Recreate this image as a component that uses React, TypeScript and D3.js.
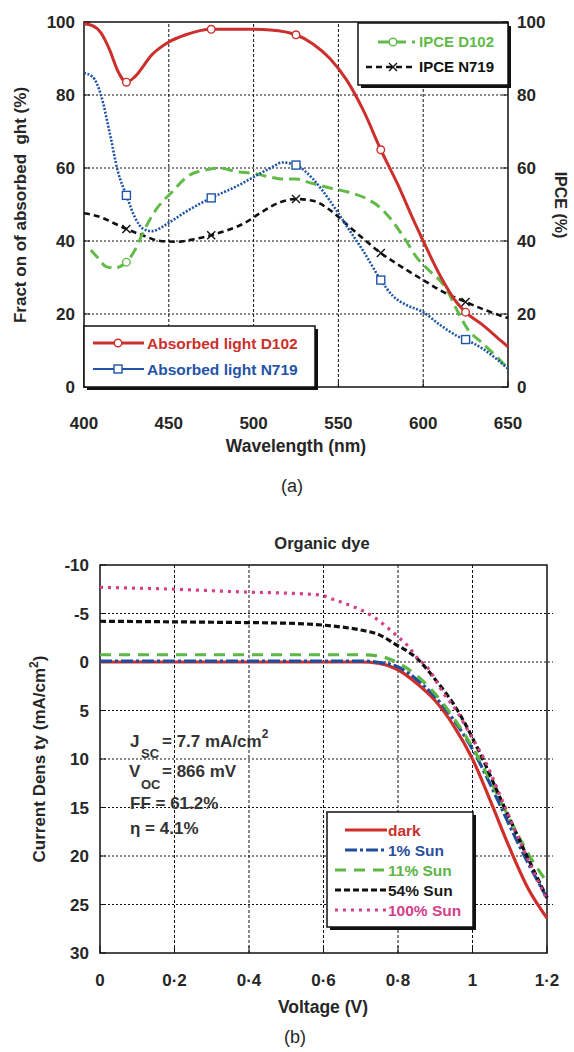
import React from 'react';
import * as d3 from 'd3';

const W = 574;
const H = 1052;
const FONT = '"Liberation Sans", Arial, sans-serif';
const INK = '#262626';

// ---- panel (a): absorbed light and IPCE vs wavelength ----
const wlTicks = [400, 450, 500, 550, 600, 650];
const pctTicks = [0, 20, 40, 60, 80, 100];

const absorbedD102: [number, number][] = [
  [400, 99.5], [405, 99], [410, 97], [415, 92.5], [420, 86.5], [425, 83.5], [430, 85],
  [440, 91], [450, 94.5], [460, 96.5], [475, 98], [500, 98], [510, 97.8], [525, 96.5],
  [535, 94], [545, 90], [555, 84], [565, 75.5], [575, 65], [585, 55.5], [595, 45],
  [600, 40], [610, 30.5], [620, 23], [625, 20.5], [635, 17], [645, 13], [650, 11]
];
const absorbedD102Marks: [number, number][] = [[425, 83.5], [475, 98], [525, 96.5], [575, 65], [625, 20.5]];

const absorbedN719: [number, number][] = [
  [400, 86], [405, 85], [410, 80], [415, 70], [420, 59], [425, 52.5], [430, 46.5],
  [435, 43.3], [440, 42.7], [450, 45], [460, 48], [475, 51.8], [490, 55], [500, 57.5],
  [510, 60], [517, 61.5], [525, 60.8], [535, 57], [545, 51], [555, 44], [565, 37],
  [575, 29.3], [582, 25], [590, 22.5], [600, 20.5], [610, 17], [620, 14], [625, 13],
  [635, 10.5], [645, 7], [650, 5]
];
const absorbedN719Marks: [number, number][] = [[425, 52.5], [475, 51.8], [525, 60.8], [575, 29.3], [625, 13]];

const ipceD102: [number, number][] = [
  [404, 37.5], [408, 35.5], [413, 33], [418, 32.6], [425, 34.2], [430, 37.5], [435, 42.5],
  [441, 47.6], [452, 53.5], [462, 58], [472, 59.5], [480, 60], [490, 59], [500, 58.5],
  [510, 57.5], [517, 57], [525, 57], [533, 56], [545, 54.5], [555, 53.5], [567, 51.5],
  [575, 49], [580, 46.5], [590, 40], [596, 35.6], [602, 32.6], [614, 26.6], [620, 21],
  [626, 16], [635, 12], [645, 7.5], [650, 5]
];
const ipceD102Marks: [number, number][] = [[425, 34.2]];

const ipceN719: [number, number][] = [
  [400, 47.6], [410, 46.5], [418, 44.8], [425, 43.3], [435, 41.5], [445, 40], [455, 39.8],
  [465, 40.5], [475, 41.6], [485, 43], [495, 45], [505, 48], [515, 50.5], [525, 51.5],
  [535, 51], [545, 48.5], [555, 44.5], [565, 40.5], [575, 36.7], [587, 33], [600, 29.3],
  [612, 26], [625, 23.3], [637, 21], [650, 18.9]
];
const ipceN719Marks: [number, number][] = [[425, 43.3], [475, 41.6], [525, 51.5], [575, 36.7], [625, 23.3]];

// ---- panel (b): J-V curves ----
const voltTicks = [0, 0.2, 0.4, 0.6, 0.8, 1, 1.2];
const voltLabels = ['0', '0·2', '0·4', '0·6', '0·8', '1', '1·2'];
const jTicks = [-10, -5, 0, 5, 10, 15, 20, 25, 30];

const darkJV: [number, number][] = [
  [0, 0], [0.7, 0], [0.75, 0.15], [0.8, 0.8], [0.85, 2.2], [0.9, 4.0], [0.95, 6.6],
  [1.0, 10], [1.05, 14.5], [1.1, 19.2], [1.15, 23.4], [1.2, 26.4]
];
const sun1JV: [number, number][] = [
  [0, -0.1], [0.7, -0.1], [0.75, 0.05], [0.8, 0.5], [0.85, 1.8], [0.9, 3.6], [0.95, 6.0],
  [1.0, 9.0], [1.05, 12.8], [1.1, 16.9], [1.15, 20.8], [1.2, 24.3]
];
const sun11JV: [number, number][] = [
  [0, -0.75], [0.7, -0.75], [0.75, -0.6], [0.8, 0.1], [0.85, 1.4], [0.9, 3.3], [0.95, 5.8],
  [1.0, 8.8], [1.05, 12.4], [1.1, 16.2], [1.15, 19.8], [1.2, 22.7]
];
const sun54JV: [number, number][] = [
  [0, -4.2], [0.3, -4.1], [0.5, -4.0], [0.6, -3.8], [0.65, -3.6], [0.7, -3.3], [0.75, -2.8],
  [0.79, -1.9], [0.85, -0.4], [0.9, 1.8], [0.96, 5.0], [1.02, 9.4], [1.08, 14.5],
  [1.14, 19.5], [1.2, 24.3]
];
const sun100JV: [number, number][] = [
  [0, -7.7], [0.2, -7.5], [0.4, -7.2], [0.5, -7.1], [0.59, -6.9], [0.63, -6.4], [0.68, -5.7],
  [0.71, -5.2], [0.74, -4.5], [0.77, -3.6], [0.8, -2.6], [0.83, -1.5], [0.85, -0.5],
  [0.88, 0.6], [0.92, 3.1], [0.96, 5.2], [1.0, 7.9], [1.03, 9.9], [1.08, 14.3],
  [1.14, 19.6], [1.2, 24.5]
];

const jvSeries = [
  { name: 'dark', data: darkJV, color: '#cf2f2b', dash: '', text: '#c8302c' },
  { name: '1% Sun', data: sun1JV, color: '#1f4f9c', dash: '12,3,3,3', text: '#2a4f9a' },
  { name: '11% Sun', data: sun11JV, color: '#5cb746', dash: '11,8', text: '#5db448' },
  { name: '54% Sun', data: sun54JV, color: '#111111', dash: '6,3', text: '#1a1a1a' },
  { name: '100% Sun', data: sun100JV, color: '#d63f86', dash: '3,5', text: '#d4408a' }
];

const RED = '#cc2f2c';
const BLUE = '#1f54a8';
const GREEN = '#62bb48';

function Circle({ cx, cy, color }: { cx: number; cy: number; color: string }) {
  return <circle cx={cx} cy={cy} r={3.8} fill="white" stroke={color} strokeWidth={1.4} />;
}
function Square({ cx, cy, color }: { cx: number; cy: number; color: string }) {
  return <rect x={cx - 4} y={cy - 4} width={8} height={8} fill="white" stroke={color} strokeWidth={1.4} />;
}
function Cross({ cx, cy }: { cx: number; cy: number }) {
  return (
    <path d={`M${cx - 4},${cy - 4}L${cx + 4},${cy + 4}M${cx + 4},${cy - 4}L${cx - 4},${cy + 4}`}
      stroke="#111" strokeWidth={1.4} />
  );
}

function PanelA() {
  const x = d3.scaleLinear().domain([400, 650]).range([84, 508]);
  const y = d3.scaleLinear().domain([0, 100]).range([387, 22]);
  const line = d3.line<[number, number]>().x(d => x(d[0])).y(d => y(d[1])).curve(d3.curveMonotoneX);
  const [x0, x1] = x.range();
  const [y0, y1] = y.range();

  return (
    <g fontFamily={FONT}>
      {/* grid */}
      {wlTicks.slice(1, -1).map(t => (
        <line key={'gx' + t} x1={x(t)} x2={x(t)} y1={y0} y2={y1} stroke="#111" strokeWidth={1} strokeDasharray="3,2" />
      ))}
      {pctTicks.slice(1, -1).map(t => (
        <line key={'gy' + t} x1={x0} x2={x1} y1={y(t)} y2={y(t)} stroke="#111" strokeWidth={1} strokeDasharray="2,2" />
      ))}
      {/* inner ticks */}
      {pctTicks.map(t => (
        <g key={'ty' + t}>
          <line x1={x0} x2={x0 + 6} y1={y(t)} y2={y(t)} stroke="#111" />
          <line x1={x1 - 6} x2={x1} y1={y(t)} y2={y(t)} stroke="#111" />
        </g>
      ))}
      {wlTicks.map(t => (
        <line key={'tx' + t} x1={x(t)} x2={x(t)} y1={y0} y2={y0 - 6} stroke="#111" />
      ))}
      <rect x={x0} y={y1} width={x1 - x0} height={y0 - y1} fill="none" stroke="#111" strokeWidth={1.5} />

      {/* curves */}
      <path d={line(ipceN719) || ''} fill="none" stroke="#111" strokeWidth={2.6} strokeDasharray="6,4" />
      <path d={line(ipceD102) || ''} fill="none" stroke={GREEN} strokeWidth={3} strokeDasharray="11,6" />
      <path d={line(absorbedN719) || ''} fill="none" stroke={BLUE} strokeWidth={2.6} strokeDasharray="2,1.6" />
      <path d={line(absorbedD102) || ''} fill="none" stroke={RED} strokeWidth={3} />
      {absorbedD102Marks.map((d, i) => <Circle key={'m1' + i} cx={x(d[0])} cy={y(d[1])} color={RED} />)}
      {absorbedN719Marks.map((d, i) => <Square key={'m2' + i} cx={x(d[0])} cy={y(d[1])} color={BLUE} />)}
      {ipceD102Marks.map((d, i) => <Circle key={'m3' + i} cx={x(d[0])} cy={y(d[1])} color={GREEN} />)}
      {ipceN719Marks.map((d, i) => <Cross key={'m4' + i} cx={x(d[0])} cy={y(d[1])} />)}

      {/* tick labels */}
      {pctTicks.map(t => (
        <text key={'ly' + t} x={x0 - 9} y={y(t)} dy="0.36em" textAnchor="end" fontSize={17} fontWeight="bold" fill={INK}>{t}</text>
      ))}
      {pctTicks.map(t => (
        <text key={'ry' + t} x={x1 + 9} y={y(t)} dy="0.36em" textAnchor="start" fontSize={17} fontWeight="bold" fill={INK}>{t}</text>
      ))}
      {wlTicks.map(t => (
        <text key={'lx' + t} x={x(t)} y={429} textAnchor="middle" fontSize={17} fontWeight="bold" fill={INK}>{t}</text>
      ))}
      <text x={x(525)} y={452} textAnchor="middle" fontSize={17.5} fontWeight="bold" fill={INK}>Wavelength (nm)</text>
      <text transform="translate(26,205) rotate(-90)" textAnchor="middle" fontSize={17} fontWeight="bold" fill={INK}
        style={{ whiteSpace: 'pre' }}>{'Fract on of absorbed  ght (%)'}</text>
      <text transform="translate(555,205) rotate(90)" textAnchor="middle" fontSize={16} fontWeight="bold" fill={INK}>IPCE (%)</text>
      <text x={292} y={492} textAnchor="middle" fontSize={18} fill={INK}>(a)</text>

      {/* legend top right */}
      <rect x={361} y={26} width={150} height={62} fill="#111" />
      <rect x={358} y={23} width={150} height={62} fill="white" stroke="#111" strokeWidth={1.5} />
      <line x1={378} x2={415} y1={42} y2={42} stroke={GREEN} strokeWidth={3} strokeDasharray="11,6" />
      <Circle cx={393} cy={42} color={GREEN} />
      <text x={419} y={42} dy="0.36em" fontSize={15} fontWeight="bold" fill={GREEN}>IPCE D102</text>
      <line x1={366} x2={415} y1={67} y2={67} stroke="#111" strokeWidth={2.6} strokeDasharray="6,4" />
      <Cross cx={393} cy={67} />
      <text x={419} y={67} dy="0.36em" fontSize={15} fontWeight="bold" fill="#111">IPCE N719</text>

      {/* legend bottom left */}
      <rect x={87} y={329} width={231} height={61} fill="#111" />
      <rect x={84} y={326} width={231} height={61} fill="white" stroke="#111" strokeWidth={1.5} />
      <line x1={93} x2={144} y1={343} y2={343} stroke={RED} strokeWidth={3} />
      <Circle cx={118} cy={343} color={RED} />
      <text x={147} y={343} dy="0.36em" fontSize={15.5} fontWeight="bold" fill={RED}>Absorbed light D102</text>
      <line x1={93} x2={144} y1={369} y2={369} stroke={BLUE} strokeWidth={2} />
      <Square cx={118} cy={369} color={BLUE} />
      <text x={147} y={369} dy="0.36em" fontSize={15.5} fontWeight="bold" fill={BLUE}>Absorbed light N719</text>
    </g>
  );
}

function PanelB() {
  const x = d3.scaleLinear().domain([0, 1.2]).range([100, 547]);
  const y = d3.scaleLinear().domain([-10, 30]).range([565, 953]);
  const line = d3.line<[number, number]>().x(d => x(d[0])).y(d => y(d[1])).curve(d3.curveMonotoneX);
  const [x0, x1] = x.range();
  const [y0, y1] = y.range();

  return (
    <g fontFamily={FONT}>
      {voltTicks.slice(1, -1).map(t => (
        <line key={'gx' + t} x1={x(t)} x2={x(t)} y1={y0} y2={y1} stroke="#111" strokeWidth={1} strokeDasharray="3,2" />
      ))}
      {jTicks.slice(1, -1).map(t => (
        <line key={'gy' + t} x1={x0} x2={x1 + 6} y1={y(t)} y2={y(t)} stroke="#111" strokeWidth={1} strokeDasharray="2,2" />
      ))}
      {jTicks.map(t => (
        <line key={'ty' + t} x1={x0} x2={x0 + 6} y1={y(t)} y2={y(t)} stroke="#111" />
      ))}
      {voltTicks.map(t => (
        <line key={'tx' + t} x1={x(t)} x2={x(t)} y1={y1} y2={y1 - 7} stroke="#111" />
      ))}
      <rect x={x0} y={y0} width={x1 - x0} height={y1 - y0} fill="none" stroke="#111" strokeWidth={1.5} />

      {jvSeries.map(s => (
        <path key={s.name} d={line(s.data) || ''} fill="none" stroke={s.color} strokeWidth={3.2} strokeDasharray={s.dash} />
      ))}

      {jTicks.map(t => (
        <text key={'ly' + t} x={x0 - 11} y={y(t)} dy="0.36em" textAnchor="end" fontSize={17} fontWeight="bold" fill={INK}>{t}</text>
      ))}
      {voltTicks.map((t, i) => (
        <text key={'lx' + t} x={x(t)} y={986} textAnchor="middle" fontSize={17} fontWeight="bold" fill={INK}>{voltLabels[i]}</text>
      ))}
      <text x={323} y={1013} textAnchor="middle" fontSize={17.5} fontWeight="bold" fill={INK}>Voltage (V)</text>
      <text x={322} y={549} textAnchor="middle" fontSize={16.5} fontWeight="bold" fill={INK}>Organic dye</text>
      <text x={295} y={1043} textAnchor="middle" fontSize={18} fill={INK}>(b)</text>
      <text transform="translate(45,759) rotate(-90)" textAnchor="middle" fontSize={17} fontWeight="bold" fill={INK}>
        Current Dens ty (mA/cm<tspan dy={-7} fontSize={12}>2</tspan><tspan dy={7}>)</tspan>
      </text>

      {/* cell parameters */}
      <g fontSize={17} fontWeight="bold" fill="#333">
        <text x={130} y={747}>J</text>
        <text x={141} y={758} fontSize={13}>SC</text>
        <text x={162} y={747}>= 7.7 mA/cm<tspan dy={-9} fontSize={12}>2</tspan></text>
        <text x={129} y={777}>V</text>
        <text x={141} y={789} fontSize={13}>OC</text>
        <text x={162} y={777}>= 866 mV</text>
        <text x={130} y={809}>FF = 61.2%</text>
        <text x={130} y={834}>η = 4.1%</text>
      </g>

      {/* legend */}
      <rect x={330} y={815} width={146} height={115} fill="#111" />
      <rect x={327} y={812} width={146} height={115} fill="white" stroke="#111" strokeWidth={1.5} />
      {jvSeries.map((s, i) => {
        const ly = 830 + i * 20;
        return (
          <g key={'lg' + s.name}>
            <line x1={i < 2 ? 345 : 335} x2={387} y1={ly} y2={ly} stroke={s.color} strokeWidth={3.2} strokeDasharray={s.dash} />
            <text x={388} y={ly} dy="0.36em" fontSize={15.5} fontWeight="bold" fill={s.text}>{s.name}</text>
          </g>
        );
      })}
    </g>
  );
}

export default function App() {
  return (
    <svg width={W} height={H} viewBox={`0 0 ${W} ${H}`}
      style={{ position: 'absolute', left: 0, top: 0, background: 'white' }}>
      <PanelA />
      <PanelB />
    </svg>
  );
}
